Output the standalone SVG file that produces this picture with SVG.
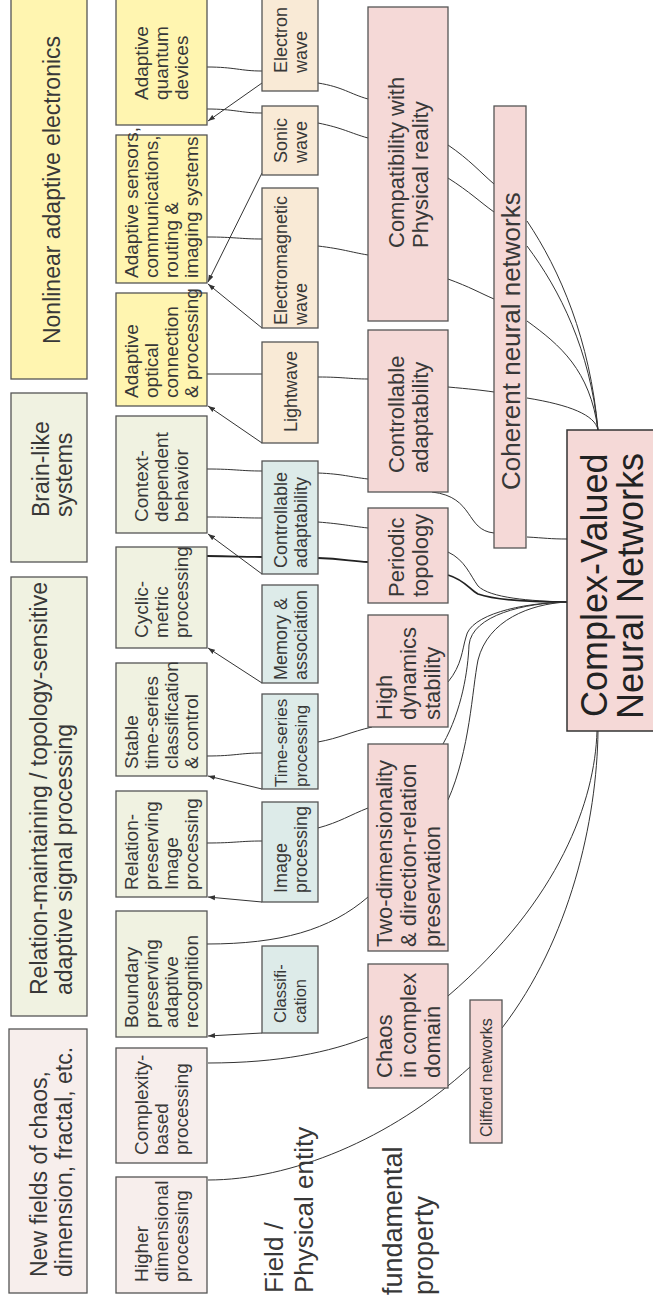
<svg xmlns="http://www.w3.org/2000/svg" width="653" height="1310" viewBox="0 0 653 1310">
<style>
.b{stroke:#555;stroke-width:1.3}
.y{fill:#FFF5B0}.g{fill:#F0F2E1}.p{fill:#F7EEEC}.w{fill:#F9EAD6}.u{fill:#DDEBE9}.k{fill:#F5D9D7}
text{font-family:"Liberation Sans",Arial,sans-serif;fill:#383838}
.f23{font-size:23px}.f19{font-size:19px}.f18{font-size:18px}.f22{font-size:22px}
.m{text-anchor:middle}
#conn path{fill:none;stroke:#333;stroke-width:1}
#conn path.bold{stroke-width:1.8;stroke:#222}
#conn path.ar{marker-end:url(#ah)}
</style>
<defs>
<marker id="ah" markerUnits="userSpaceOnUse" markerWidth="8" markerHeight="6" refX="7" refY="3" orient="auto">
<path d="M0,0.5 L7,3 L0,5.5 z" fill="#333"/>
</marker>
</defs>
<g id="conn">
<path class="ar" d="M262,83 L208,121"/>
<path class="ar" d="M262,173 L208,282"/>
<path class="ar" d="M262,328 L208,284"/>
<path class="ar" d="M262,443 L208,406"/>
<path class="ar" d="M262,574 L208,534"/>
<path class="ar" d="M262,683 L208,648"/>
<path class="ar" d="M262,789 L208,776"/>
<path class="ar" d="M262,902 L208,897"/>
<path class="ar" d="M262,1033 L208,1036"/>
<path d="M207,67 C235,67 240,71 262,71"/>
<path d="M207,109 C235,109 240,113 262,113"/>
<path d="M207,237 C235,237 240,239 262,239"/>
<path d="M207,374 L262,374"/>
<path d="M207,469 C235,469 240,471 262,471"/>
<path d="M207,517 C235,517 240,518 262,518"/>
<path class="bold" d="M207,556 C235,556 240,557 262,557"/>
<path d="M207,756 C235,756 240,753 262,753"/>
<path d="M207,843 C235,843 240,841 262,841"/>
<path d="M318,83 C343,87 350,94 368,99"/>
<path d="M318,123 C343,128 350,133 368,138"/>
<path d="M318,246 C343,249 350,252 368,255"/>
<path d="M318,377 C343,377 350,379 368,379"/>
<path d="M318,473 C343,474 350,477 368,479"/>
<path d="M318,522 C343,524 350,526 368,528"/>
<path class="bold" d="M318,558 C343,559 350,561 368,562"/>
<path d="M318,742 C340,738 350,732 372,727"/>
<path d="M318,828 C340,822 350,815 368,808"/>
<path d="M207,944 C280,944 330,930 368,897"/>
<path d="M208,1063 C280,1063 330,1052 368,1037"/>
<path d="M208,1180 C290,1180 390,1140 470,1067"/>
<path d="M448,145 C470,160 480,172 494,184"/>
<path d="M448,178 C470,192 480,202 494,212"/>
<path d="M448,279 C470,287 480,293 494,299"/>
<path d="M448,387 C470,389 480,390 494,392"/>
<path d="M432,492 C475,497 465,530 494,533"/>
<path d="M527,221 C560,270 590,340 598,430"/>
<path d="M527,246 C560,290 590,350 598,430"/>
<path d="M527,321 C560,345 590,370 598,430"/>
<path d="M527,398 C570,405 595,415 598,430"/>
<path d="M527,537 C545,538 550,539 567,539"/>
<path d="M448,552 C465,560 470,575 478,586 C490,598 530,601 567,602"/>
<path class="bold" d="M448,575 C465,580 470,590 478,594 C495,600 530,602 567,602"/>
<path d="M448,682 C462,665 462,650 466,637 C470,615 520,603 567,602"/>
<path d="M443,744 C462,710 468,670 469,645 C472,615 525,603 567,602"/>
<path d="M448,800 C470,750 472,690 478,660 C488,620 530,604 567,602"/>
<path d="M597,731 C595,800 560,900 448,996"/>
<path d="M598,731 C597,820 570,940 502,1028"/>
</g>
<g id="n-nonlinear"><rect class="b y" x="11" y="-2" width="76" height="381"/>
<g transform="rotate(-90)"><text class="f23 m" x="-190" y="60">Nonlinear adaptive electronics</text></g></g>
<g id="n-brain"><rect class="b g" x="11" y="393" width="76" height="169"/>
<g transform="rotate(-90)" class="f23"><text x="-517" y="49">Brain-like</text><text x="-517" y="72">systems</text></g></g>
<g id="n-relation"><rect class="b g" x="11" y="577" width="76" height="439"/>
<g transform="rotate(-90)" class="f23"><text x="-995" y="47">Relation-maintaining / topology-sensitive</text><text x="-995" y="72">adaptive signal processing</text></g></g>
<g id="n-newfields"><rect class="b p" x="9" y="1029" width="78" height="264"/>
<g transform="rotate(-90)" class="f23"><text x="-1277" y="47">New fields of chaos,</text><text x="-1277" y="72">dimension, fractal, etc.</text></g></g>
<g id="n-quantum"><rect class="b y" x="116" y="-1" width="91" height="126"/>
<g transform="rotate(-90)" class="f19"><text x="-100" y="148">Adaptive</text><text x="-100" y="168">quantum</text><text x="-100" y="188">devices</text></g></g>
<g id="n-sensors"><rect class="b y" x="116" y="135" width="91" height="148"/>
<g transform="rotate(-90)" class="f19"><text x="-278" y="138">Adaptive sensors,</text><text x="-278" y="158">communications,</text><text x="-278" y="178">routing &amp;</text><text x="-278" y="198">imaging systems</text></g></g>
<g id="n-optical"><rect class="b y" x="116" y="293" width="91" height="113"/>
<g transform="rotate(-90)" class="f19"><text x="-398" y="138">Adaptive</text><text x="-398" y="158">optical</text><text x="-398" y="178">connection</text><text x="-398" y="198">&amp; processing</text></g></g>
<g id="n-context"><rect class="b g" x="116" y="416" width="91" height="117"/>
<g transform="rotate(-90)" class="f19"><text x="-522" y="148">Context-</text><text x="-522" y="168">dependent</text><text x="-522" y="188">behavior</text></g></g>
<g id="n-cyclic"><rect class="b g" x="116" y="547" width="91" height="101"/>
<g transform="rotate(-90)" class="f19"><text x="-638" y="148">Cyclic-</text><text x="-638" y="168">metric</text><text x="-638" y="188">processing</text></g></g>
<g id="n-stable"><rect class="b g" x="116" y="663" width="91" height="113"/>
<g transform="rotate(-90)" class="f19"><text x="-769" y="138">Stable</text><text x="-769" y="158">time-series</text><text x="-769" y="178">classification</text><text x="-769" y="198">&amp; control</text></g></g>
<g id="n-relimage"><rect class="b g" x="116" y="791" width="91" height="106"/>
<g transform="rotate(-90)" class="f19"><text x="-890" y="138">Relation-</text><text x="-890" y="158">preserving</text><text x="-890" y="178">Image</text><text x="-890" y="198">processing</text></g></g>
<g id="n-boundary"><rect class="b g" x="116" y="911" width="91" height="126"/>
<g transform="rotate(-90)" class="f19"><text x="-1028" y="138">Boundary</text><text x="-1028" y="158">preserving</text><text x="-1028" y="178">adaptive</text><text x="-1028" y="198">recognition</text></g></g>
<g id="n-complexity"><rect class="b p" x="116" y="1048" width="91" height="115"/>
<g transform="rotate(-90)" class="f19"><text x="-1155" y="148">Complexity-</text><text x="-1155" y="168">based</text><text x="-1155" y="188">processing</text></g></g>
<g id="n-higher"><rect class="b p" x="116" y="1177" width="91" height="116"/>
<g transform="rotate(-90)" class="f19"><text x="-1282" y="148">Higher</text><text x="-1282" y="168">dimensional</text><text x="-1282" y="188">processing</text></g></g>
<g id="n-electron"><rect class="b w" x="262" y="-1" width="56" height="92"/>
<g transform="rotate(-90)" class="f18"><text x="-73" y="286.5">Electron</text><text x="-73" y="306.5">wave</text></g></g>
<g id="n-sonic"><rect class="b w" x="262" y="106" width="56" height="69"/>
<g transform="rotate(-90)" class="f18"><text x="-163" y="286.5">Sonic</text><text x="-163" y="306.5">wave</text></g></g>
<g id="n-em"><rect class="b w" x="262" y="188" width="56" height="140"/>
<g transform="rotate(-90)" class="f18"><text x="-325" y="286.5">Electromagnetic</text><text x="-325" y="306.5">wave</text></g></g>
<g id="n-light"><rect class="b w" x="262" y="342" width="56" height="101"/>
<g transform="rotate(-90)" class="f18"><text x="-432" y="296.5">Lightwave</text></g></g>
<g id="n-ctrl-blue"><rect class="b u" x="262" y="461" width="56" height="113"/>
<g transform="rotate(-90)" class="f18"><text x="-568" y="286.5">Controllable</text><text x="-568" y="306.5">adaptability</text></g></g>
<g id="n-memory"><rect class="b u" x="262" y="585" width="56" height="98"/>
<g transform="rotate(-90)" class="f18"><text x="-680" y="286.5">Memory &amp;</text><text x="-680" y="306.5">association</text></g></g>
<g id="n-timeseries"><rect class="b u" x="262" y="694" width="56" height="95"/>
<g transform="rotate(-90)" style="font-size:17px"><text x="-787" y="286.5">Time-series</text><text x="-787" y="306.5">processing</text></g></g>
<g id="n-image"><rect class="b u" x="262" y="802" width="56" height="100"/>
<g transform="rotate(-90)" class="f18"><text x="-893" y="286.5">Image</text><text x="-893" y="306.5">processing</text></g></g>
<g id="n-class"><rect class="b u" x="262" y="946" width="56" height="87"/>
<g transform="rotate(-90)" style="font-size:16.5px"><text x="-1023" y="285.5">Classifi-</text><text x="-1023" y="305.5">cation</text></g></g>
<g id="n-compat"><rect class="b k" x="368" y="7" width="80" height="314"/>
<g transform="rotate(-90)" class="f22"><text x="-248" y="404">Compatibility with</text><text x="-248" y="428">Physical reality</text></g></g>
<g id="n-ctrl-pink"><rect class="b k" x="368" y="330" width="80" height="162"/>
<g transform="rotate(-90)" class="f22"><text x="-473" y="404">Controllable</text><text x="-473" y="428">adaptability</text></g></g>
<g id="n-periodic"><rect class="b k" x="368" y="508" width="80" height="95"/>
<g transform="rotate(-90)" class="f22"><text x="-597" y="404">Periodic</text><text x="-597" y="428">topology</text></g></g>
<g id="n-highdyn"><rect class="b k" x="368" y="615" width="80" height="112"/>
<g transform="rotate(-90)" class="f22"><text x="-720" y="392">High</text><text x="-720" y="416">dynamics</text><text x="-720" y="440">stability</text></g></g>
<g id="n-twodim"><rect class="b k" x="368" y="744" width="80" height="207"/>
<g transform="rotate(-90)" class="f22"><text x="-947" y="392">Two-dimensionality</text><text x="-947" y="416">&amp; direction-relation</text><text x="-947" y="440">preservation</text></g></g>
<g id="n-chaos"><rect class="b k" x="368" y="964" width="80" height="124"/>
<g transform="rotate(-90)" class="f22"><text x="-1078" y="392">Chaos</text><text x="-1078" y="416">in complex</text><text x="-1078" y="440">domain</text></g></g>
<g id="n-clifford"><rect class="b k" x="470" y="1000" width="32" height="143"/>
<g transform="rotate(-90)"><text x="-1137" y="492" style="font-size:16px">Clifford networks</text></g></g>
<g id="n-coherent"><rect class="b k" x="494" y="106" width="32" height="442"/>
<g transform="rotate(-90)"><text x="-490" y="520" style="font-size:26px">Coherent neural networks</text></g></g>
<g id="n-cvnn"><rect class="b k" x="567" y="430" width="95" height="301" style="stroke:#333;stroke-width:1.5"/>
<g transform="rotate(-90)" style="font-size:36px"><text x="-717" y="607" style="fill:#222">Complex-Valued</text><text x="-719" y="643" style="fill:#222">Neural Networks</text></g></g>
<g id="lbl-field" transform="rotate(-90)" style="font-size:26px"><text x="-1293" y="283">Field /</text><text x="-1293" y="313">Physical entity</text></g>
<g id="lbl-fund" transform="rotate(-90)" style="font-size:27px"><text x="-1295" y="402">fundamental</text><text x="-1295" y="433">property</text></g>
</svg>
